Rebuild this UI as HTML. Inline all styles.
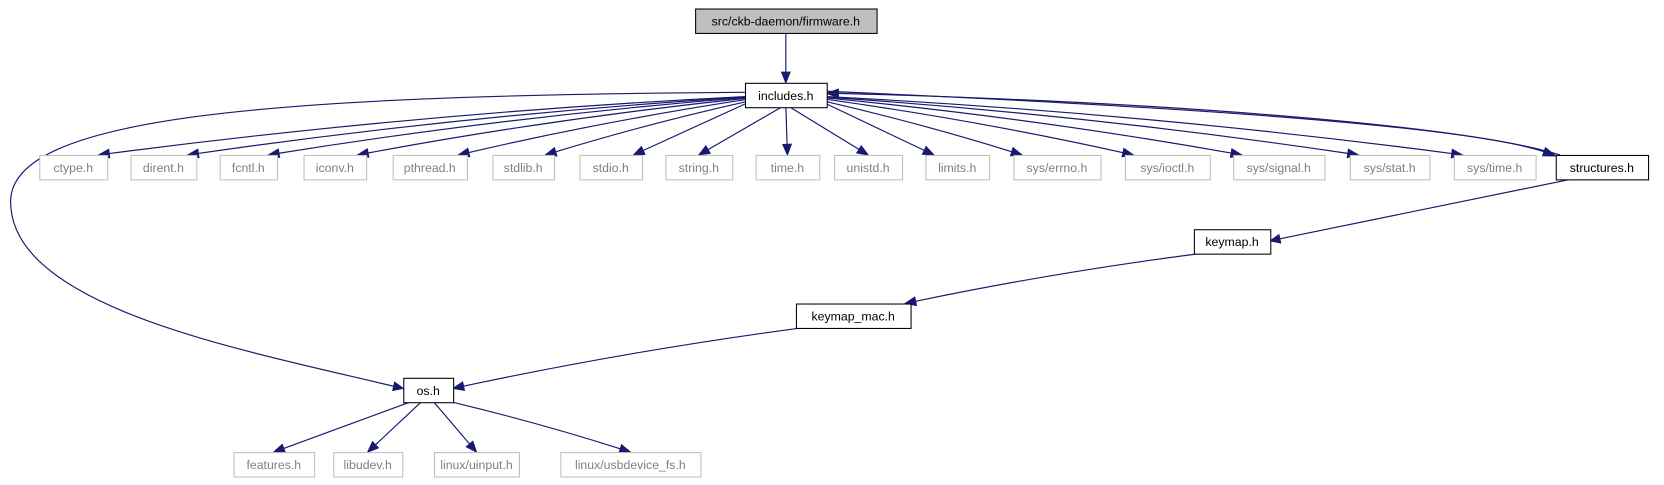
<!DOCTYPE html>
<html><head><meta charset="utf-8">
<style>
html,body{margin:0;padding:0;background:#fff;}
svg{display:block;}
text{font-family:"Liberation Sans",Arial,sans-serif;font-size:11.6px;}
</style></head>
<body>
<svg width="1664" height="485" viewBox="0 0 1664 485"><g id="g" transform="scale(1.0612)"></g></svg>
<script>
const nodeNames=["src/ckb-daemon/firmware.h","includes.h","ctype.h","dirent.h","fcntl.h","iconv.h","pthread.h","stdlib.h","stdio.h","string.h","time.h","unistd.h","limits.h","sys/errno.h","sys/ioctl.h","sys/signal.h","sys/stat.h","sys/time.h","structures.h","keymap.h","keymap_mac.h","os.h","features.h","libudev.h","linux/uinput.h","linux/usbdevice_fs.h"];
const nodeX0=[655,702,37,123,207,286,370,464,546,627,712,786,872,955,1060,1162,1272,1370,1466,1125,750,380,220,314,409,528];
const nodeX1=[826,779,101,185,261,345,440,522,605,690,772,850,932,1037,1140,1248,1347,1447,1553,1197,858,427,296,379,489,660];
const nodeRow=[0,1,2,2,2,2,2,2,2,2,2,2,2,2,2,2,2,2,2,3,4,5,6,6,6,6];
const nodeKind=["root","doc","ext","ext","ext","ext","ext","ext","ext","ext","ext","ext","ext","ext","ext","ext","ext","ext","doc","doc","doc","doc","ext","ext","ext","ext"];
const rowY=[8,78,146,216,286,356,426];
const edgeFrom=[0,1,1,1,1,1,1,1,1,1,1,1,1,1,1,1,1,1,1,18,18,19,20,1,21,21,21,21];
const edgeTo=[1,2,3,4,5,6,7,8,9,10,11,12,13,14,15,16,17,18,1,19,1,20,21,21,22,23,24,25];
const H=23;
const svgEl=document.getElementById('g');
const NS='http://www.w3.org/2000/svg';
function mk(t,a){const e=document.createElementNS(NS,t);for(const k in a)e.setAttribute(k,a[k]);return e;}
function cx(i){return (nodeX0[i]+nodeX1[i])/2;}
function nodeTop(i){return rowY[nodeRow[i]];}
function safe(s){return s.replace(/[^a-z0-9]+/gi,'-').toLowerCase();}
const eg=mk('g',{});svgEl.appendChild(eg);
edgeFrom.forEach((f,k)=>{
  const t=edgeTo[k];
  let d,ex,ey,px,py;
  if(f===1&&t===21){
    d='M702,87 C250,90 10,110 10,190 C10,290 230,330 371,364';
    ex=380;ey=366;px=371;py=364;
  }else if(f===1&&t===18){
    d='M779,86 C1100,100 1380,118 1455,143';ex=1466;ey=147;px=1455;py=143;
  }else if(f===18&&t===1){
    d='M1470,146 C1380,118 1100,96 790,88';ex=779;ey=88;px=790;py=88;
  }else if(f===18&&t===19){
    d='M1480,169 L1206,225';ex=1197;ey=227;px=1206;py=225;
  }else if(f===0){
    ex=cx(1);ey=nodeTop(1);px=ex;py=ey-10;
    d=`M${cx(0)},${nodeTop(0)+H} L${px},${py}`;
  }else{
    let sx,sy;
    ex=cx(t);ey=nodeTop(t);
    if(f===1){
      const dx=ex-cx(1);
      sx=cx(1)+Math.max(-38,Math.min(38,dx*0.05));sy=nodeTop(1)+H;
      if(Math.abs(dx)>150){sy=nodeTop(1)+10+Math.min(10,2000/Math.abs(dx));sx=dx<0?702:779;}
      if(ex<cx(1)-150){ex=nodeX1[t]-8;}
      if(ex>cx(1)+150){ex=nodeX0[t]+8;}
    }else if(f===21){sx=cx(21)+(ex-cx(21))*0.12;sy=nodeTop(21)+H;}
    else if(f===20){sx=nodeX0[20]+5;sy=nodeTop(20)+H;ex=nodeX1[21];ey=nodeTop(21)+10;}
    else{sx=nodeX0[f]+5;sy=nodeTop(f)+H;ex=nodeX1[t]-5;}
    const dx=ex-sx,dy=ey-sy;
    const qx=sx+dx*0.5, qy=sy+dy*0.5-(Math.abs(dx)>150?Math.abs(dx)*0.02:0);
    const L=Math.hypot(ex-qx,ey-qy);px=ex-(ex-qx)/L*10;py=ey-(ey-qy)/L*10;
    d=`M${sx},${sy} Q${qx},${qy} ${px},${py}`;
  }
  const p=mk('path',{d:d,fill:'none',stroke:'#191970','stroke-width':'1.1'});
  
  
  eg.appendChild(p);
  const ang=Math.atan2(ey-py,ex-px),w=4;
  const ax=px-Math.sin(ang)*w,ay=py+Math.cos(ang)*w,bx=px+Math.sin(ang)*w,by=py-Math.cos(ang)*w;
  const a=mk('polygon',{points:`${ex},${ey} ${ax},${ay} ${bx},${by}`,fill:'#191970',stroke:'#191970'});
  
  
  eg.appendChild(a);
});
nodeNames.forEach((n,i)=>{
  const g=mk('g',{});
  
  
  const k=nodeKind[i];
  g.appendChild(mk('rect',{x:nodeX0[i]+0.5,y:nodeTop(i)+0.5,width:nodeX1[i]-nodeX0[i],height:H,
    fill:k==='root'?'#bfbfbf':'#fff',stroke:k==='ext'?'#bfbfbf':'#000','stroke-width':1}));
  const tx=mk('text',{x:cx(i),y:nodeTop(i)+16,'text-anchor':'middle',fill:k==='ext'?'#7f7f7f':'#000'});
  tx.textContent=n;g.appendChild(tx);
  svgEl.appendChild(g);
});
</script>
</body></html>
